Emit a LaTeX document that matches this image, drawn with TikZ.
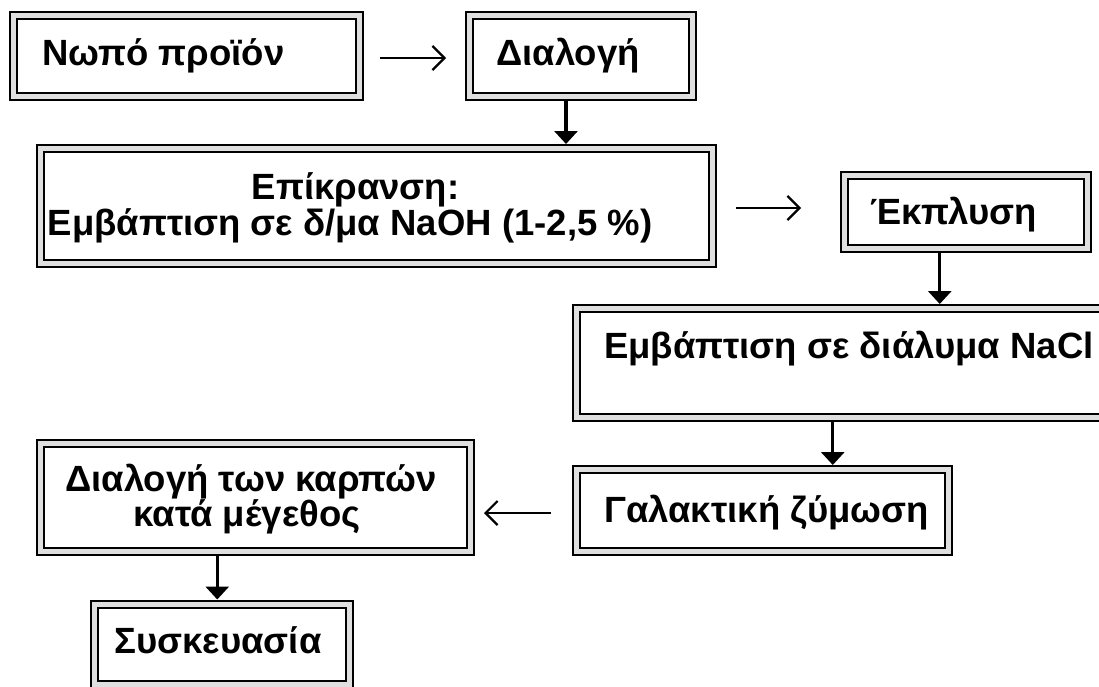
\documentclass[tikz,border=0pt]{standalone}
\usepackage{fontspec}
\setmainfont{Liberation Sans}
\usetikzlibrary{arrows.meta,calc}
\begin{document}
\begin{tikzpicture}[x=1pt,y=-1pt,
  flowbox/.style={draw, line width=2pt, double=gray!25, double distance=5pt,
    outer sep=4.5pt, inner sep=0pt},
  txt/.style={font=\fontsize{36.5}{40}\selectfont\bfseries, inner sep=0pt},
  thickarrow/.style={line width=3.2pt, -{Triangle[width=23pt,length=13pt]}},
  thinarrow/.style={line width=2.2pt, -{Straight Barb[length=12pt,width=24pt,line width=2.2pt]}}]
\path[use as bounding box, clip] (0,0) rectangle (1099,686);

% boxes
\node[flowbox, minimum width=346.5pt, minimum height=81pt] (n1) at (186.25,56) {};
\node[flowbox, minimum width=223pt, minimum height=81pt] (n2) at (581,56) {};
\node[flowbox, minimum width=672pt, minimum height=115pt] (n3) at (376,206) {};
\node[flowbox, minimum width=242.5pt, minimum height=72.5pt] (n4) at (965.75,211.75) {};
\node[flowbox, minimum width=526.5pt, minimum height=108.5pt] (n5) at (839.75,362.75) {};
\node[flowbox, minimum width=372pt, minimum height=82pt] (n6) at (762.5,510.5) {};
\node[flowbox, minimum width=429.5pt, minimum height=107.5pt] (n7) at (255.25,497.25) {};
\node[flowbox, minimum width=255pt, minimum height=80.5pt] (n8) at (222,644.25) {};

% texts
\node[txt, anchor=base west] (t1) at (42,65) {Νωπό προϊόν};
\node[txt, anchor=base west] (t2) at (496,65) {Διαλογή};
\node[txt, anchor=base] (t3a) at (355.5,199) {Επίκρανση:};
\node[txt, anchor=base] (t3b) at (350,235) {Εμβάπτιση σε δ/μα NaOH (1-2,5 \%)};
\node[txt, anchor=base west] (t4) at (870,224) {Έκπλυση};
\node[txt, anchor=base west] (t5) at (604,358) {Εμβάπτιση σε διάλυμα NaCl};
\node[txt, anchor=base west] (t6) at (604,522) {Γαλακτική ζύμωση};
\node[txt, anchor=base] (t7a) at (251,491) {Διαλογή των καρπών};
\node[txt, anchor=base] (t7b) at (247,526) {κατά μέγεθος};
\node[txt, anchor=base] (t8) at (218,653) {Συσκευασία};

% connectors
\draw[thinarrow] ($(n1.east)+(16,2)$) -- ($(n2.west)+(-19,2)$);
\draw[thickarrow] ([xshift=-15pt]n2.south) -- ([xshift=-15pt]n2.south |- n3.north);
\draw[thinarrow] ($(n3.east)+(19.5,2)$) -- ($(n4.west |- n3.east)+(-39,2)$);
\draw[thickarrow] ([xshift=-26pt]n4.south) -- ([xshift=-26pt]n4.south |- n5.north);
\draw[thickarrow] ([xshift=-7pt]n5.south) -- ([xshift=-7pt]n5.south |- n6.north);
\draw[thinarrow] ($(n6.west)+(-21,2.5)$) -- ($(n7.east |- n6.west)+(9.5,2.5)$);
\draw[thickarrow] ([xshift=-38pt]n7.south) -- ([xshift=-38pt]n7.south |- n8.north);
\end{tikzpicture}
\end{document}
